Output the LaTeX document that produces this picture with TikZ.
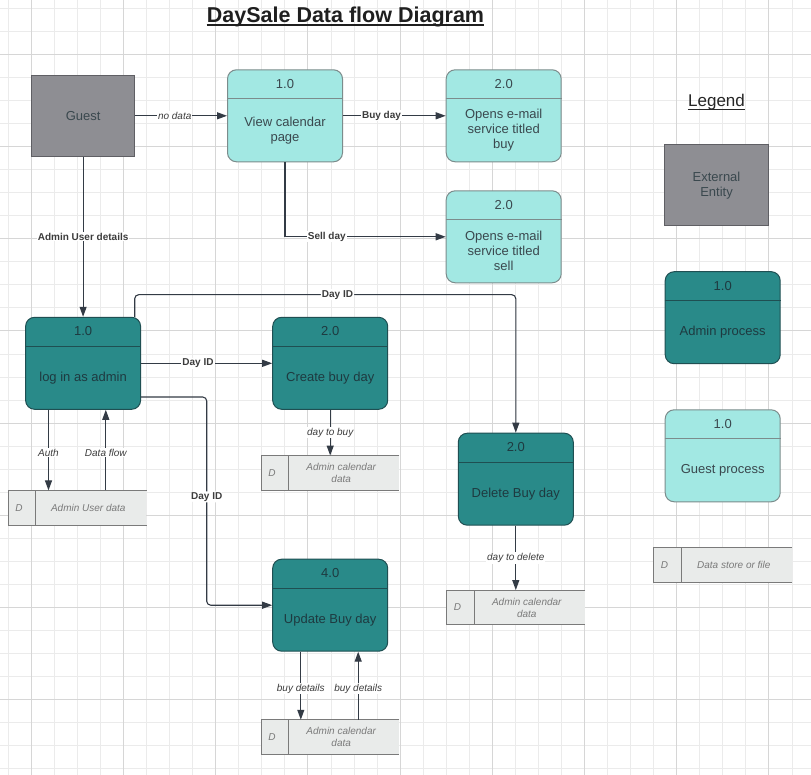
\documentclass[tikz,border=0pt]{standalone}
\usepackage{fontspec}
\setmainfont{Liberation Sans}
\usetikzlibrary{arrows.meta,calc}
\definecolor{gridminor}{HTML}{EBEBEB}
\definecolor{gridmajor}{HTML}{D6D6D6}
\definecolor{cyanfill}{HTML}{A2E8E3}
\definecolor{cyanline}{HTML}{7C8C8C}
\definecolor{tealfill}{HTML}{298A89}
\definecolor{tealline}{HTML}{1F4F52}
\definecolor{entfill}{HTML}{8E8E93}
\definecolor{entline}{HTML}{5F5F64}
\definecolor{storefill}{HTML}{E9EBEA}
\definecolor{storeline}{HTML}{7A7A7A}
\definecolor{wire}{HTML}{333B45}
\definecolor{txtdark}{HTML}{3A484E}
\definecolor{txtteal}{HTML}{1E3A40}
\definecolor{txtstore}{HTML}{7A7A7A}
\definecolor{txtlabel}{HTML}{3C3C3C}
\newcommand{\mkproc}[5]{%
  \node[#1] (#2) at (#3) {};
  \draw[#1line] ([yshift=-29.6pt]#2.north west) -- ([yshift=-29.6pt]#2.north east);
  \node[#1text] (#2-h) at ([yshift=-14.5pt]#2.north) {#4};
  \node[#1text] (#2-b) at ([yshift=32pt]#2.south) {#5};
}
\newcommand{\mkstore}[3]{%
  \node[storebox] (#1) at (#2) {};
  \draw[storeedge] (#1.north east) -- (#1.north west) -- (#1.south west) -- (#1.south east);
  \draw[storeedge] ([xshift=27.5pt]#1.north west) -- ([xshift=27.5pt]#1.south west);
  \node[storetext] (#1-d) at ($(#1.west)+(11,0)$) {D};
  \node[storetext] (#1-t) at ($(#1.center)+(11,0)$) {#3};
}
\begin{document}
\begin{tikzpicture}[x=1pt,y=-1pt,
  entity/.style={draw=entline, fill=entfill, line width=1pt, minimum width=103.3pt, minimum height=81pt, inner sep=0pt, text=txtdark, font=\fontsize{13}{15}\selectfont, align=center},
  gproc/.style={draw=cyanline, fill=cyanfill, line width=1pt, rounded corners=9pt, minimum width=115pt, minimum height=92pt, inner sep=0pt},
  gprocline/.style={draw=cyanline, line width=1pt},
  gproctext/.style={text=txtdark, font=\fontsize{13}{15}\selectfont, align=center, inner sep=0pt},
  aproc/.style={gproc, draw=tealline, fill=tealfill},
  aprocline/.style={draw=tealline, line width=1pt},
  aproctext/.style={text=txtteal, font=\fontsize{13}{15}\selectfont, align=center, inner sep=0pt},
  storebox/.style={fill=storefill, draw=none, minimum width=138pt, minimum height=34.5pt, inner sep=0pt},
  storeedge/.style={draw=storeline, line width=1pt},
  storetext/.style={text=txtstore, font=\fontsize{10}{12}\itshape, align=center, inner sep=0pt},
  flow/.style={draw=wire, line width=1.1pt, -{Triangle[length=10pt,width=7pt]}},
  lblb/.style={fill=white, inner sep=1pt, text=txtlabel, font=\fontsize{10}{12}\bfseries},
  lbli/.style={fill=white, inner sep=1pt, text=txtlabel, font=\fontsize{10}{12}\itshape}
]
\useasboundingbox (0,0) rectangle (811,775);
\fill[white] (0,0) rectangle (811,775);
% grid
\foreach \k in {0,...,34} {
  \pgfmathsetmacro\gx{8.3+23.05*\k}
  \draw[gridminor, line width=1pt] (\gx,0) -- (\gx,775);
}
\foreach \k in {0,...,33} {
  \pgfmathsetmacro\gy{8.3+23.05*\k}
  \draw[gridminor, line width=1pt] (0,\gy) -- (811,\gy);
}
\foreach \k in {1,5,...,33} {
  \pgfmathsetmacro\gx{8.3+23.05*\k}
  \draw[gridmajor, line width=1pt] (\gx,0) -- (\gx,775);
}
\foreach \k in {2,6,...,30} {
  \pgfmathsetmacro\gy{8.3+23.05*\k}
  \draw[gridmajor, line width=1pt] (0,\gy) -- (811,\gy);
}
% title
\node[anchor=base, inner sep=0pt, text={black!88}, font=\fontsize{21.5}{24}\bfseries] (title) at (345.5,22.5) {DaySale Data flow Diagram};
\draw[black!88, line width=1.8pt] ([yshift=-2.8pt]title.base west) -- ([yshift=-2.8pt]title.base east);
% legend
\node[anchor=base, inner sep=0pt, text={black!85}, font=\fontsize{17}{20}\selectfont] (legend) at (716.5,106.5) {Legend};
\draw[black!85, line width=1pt] ([yshift=-3.3pt]legend.base west) -- ([yshift=-3.3pt]legend.base east);
% entities
\node[entity] (guest) at (83.1,115.8) {Guest};
\node[entity, minimum width=104.4pt, minimum height=80.7pt] (extleg) at (716.5,185.3) {External\\Entity};
% processes
\mkproc{gproc}{view}{285,115.8}{1.0}{View calendar\\page}
\mkproc{gproc}{buyem}{503.7,115.8}{2.0}{Opens e-mail\\service titled\\buy}
\mkproc{gproc}{sellem}{503.7,236.8}{2.0}{Opens e-mail\\service titled\\sell}
\mkproc{aproc}{login}{83.1,363.3}{1.0}{log in as admin}
\mkproc{aproc}{create}{330.2,363.3}{2.0}{Create buy day}
\mkproc{aproc}{delete}{515.8,479.2}{2.0}{Delete Buy day}
\mkproc{aproc}{update}{330.2,605.2}{4.0}{Update Buy day}
\mkproc{aproc}{adminleg}{722.7,317.7}{1.0}{Admin process}
\mkproc{gproc}{guestleg}{722.7,455.8}{1.0}{Guest process}
% stores
\mkstore{userdata}{77.3,507.85}{Admin User data}
\mkstore{calone}{330.2,473}{Admin calendar\\data}
\mkstore{caltwo}{515.8,607.5}{Admin calendar\\data}
\mkstore{calthree}{330.2,737.2}{Admin calendar\\data}
\mkstore{storeleg}{722.8,565}{Data store or file}
% connectors
\coordinate (dcorner) at (515.8,294.7);
\coordinate (ucorner) at (206.7,605.2);
\coordinate (authx) at ([xshift=23.4pt]login.south west);
\coordinate (dfx) at ([xshift=80.7pt]login.south west);
\coordinate (bdone) at ([xshift=28.6pt]update.south west);
\coordinate (bdtwo) at ([xshift=86pt]update.south west);
\draw[flow] (guest.east) -- node[lbli, pos=0.43]{no data} (view.west);
\draw[flow] (view.east) -- node[lblb, pos=0.375]{Buy day} (buyem.west);
\draw[flow] (view.south) |- node[lblb, pos=0.63]{Sell day} (sellem.west);
\draw[flow] (guest.south) -- node[lblb]{Admin User details} (login.north);
\draw[flow, rounded corners=4pt] ([xshift=-6.4pt]login.north east) |- node[lblb, pos=0.766]{Day ID} (dcorner) -- (delete.north);
\draw[flow] (login.east) -- node[lblb, pos=0.434]{Day ID} (create.west);
\draw[flow, rounded corners=4pt] ([yshift=-33.7pt]login.east) -| node[lblb, pos=0.74]{Day ID} (ucorner) -- (update.west);
\draw[flow] (create.south) -- node[lbli]{day to buy} (calone.north);
\draw[flow] (authx) -- node[lbli, pos=0.53]{Auth} (authx |- userdata.north);
\draw[flow] (dfx |- userdata.north) -- node[lbli, pos=0.47]{Data flow} (dfx);
\draw[flow] (delete.south) -- node[lbli]{day to delete} (caltwo.north);
\draw[flow] (bdone) -- node[lbli, pos=0.54]{buy details} (bdone |- calthree.north);
\draw[flow] (bdtwo |- calthree.north) -- node[lbli, pos=0.46]{buy details} (bdtwo);
\end{tikzpicture}
\end{document}
